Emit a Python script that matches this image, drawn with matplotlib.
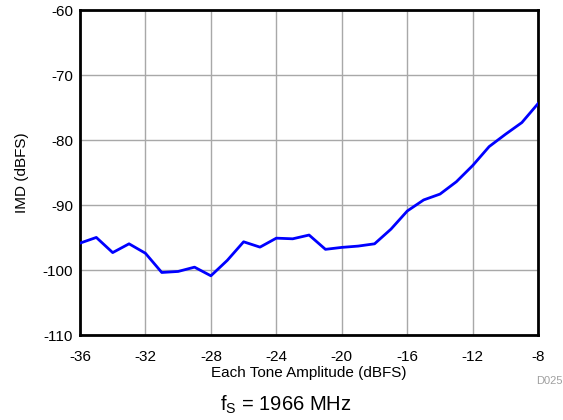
import matplotlib.pyplot as plt

plt.rcParams['font.family'] = ['Liberation Sans', 'DejaVu Sans']
plt.rcParams['axes.unicode_minus'] = False

amplitude = [-36, -35, -34, -33, -32, -31, -30, -29, -28, -27, -26, -25, -24, -23,
             -22, -21, -20, -19, -18, -17, -16, -15, -14, -13, -12, -11, -10, -9, -8]
imd = [-95.85, -94.97, -97.3, -95.95, -97.4, -100.36, -100.2, -99.54, -100.87, -98.5,
       -95.64, -96.46, -95.08, -95.18, -94.6, -96.8, -96.5, -96.3, -95.95, -93.7,
       -90.9, -89.2, -88.3, -86.4, -83.9, -81.0, -79.1, -77.3, -74.35]
xticks = [-36, -32, -28, -24, -20, -16, -12, -8]
yticks = [-110, -100, -90, -80, -70, -60]

fig = plt.figure(figsize=(5.63, 4.20), dpi=100)
ax = fig.add_axes([0.142, 0.202, 0.814, 0.774])

ax.plot(amplitude, imd, color='#0000FF', lw=2, zorder=3)

ax.set_xlim(-36, -8)
ax.set_ylim(-110, -60)
ax.set_xticks(xticks)
ax.set_yticks(yticks)
ax.grid(True, color='#a8a8a8', lw=1)
ax.tick_params(length=0, labelsize=11)
ax.tick_params(axis='x', pad=11)
ax.tick_params(axis='y', pad=5)
for s in ax.spines.values():
    s.set_linewidth(2)

ax.set_xlabel('Each Tone Amplitude (dBFS)', fontsize=11, labelpad=1)
ax.set_ylabel('IMD (dBFS)', fontsize=11, labelpad=10)

fig.text(1.0, 0.093, 'D025', fontsize=8, color='#a0a0a0', ha='right', va='center')
fig.text(0.508, 0.036, r'f$_\mathregular{S}$ = 1966 MHz', fontsize=14.5, ha='center', va='center')

fig.savefig('out.png', dpi=100)
